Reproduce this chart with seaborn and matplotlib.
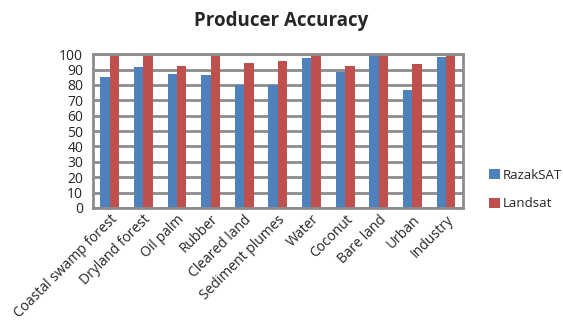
import numpy as np
import pandas as pd
import matplotlib
matplotlib.use("Agg")
import matplotlib.pyplot as plt
import seaborn as sns

categories = ["Coastal swamp forest", "Dryland forest", "Oil palm", "Rubber",
              "Cleared land", "Sediment plumes", "Water", "Coconut",
              "Bare land", "Urban", "Industry"]
razaksat = [85.4, 91.7, 87.0, 86.3, 80.0, 80.0, 97.4, 88.7, 100.0, 76.7, 98.0]
landsat = [100.0, 99.1, 92.6, 99.0, 94.1, 95.6, 100.0, 92.6, 100.0, 93.5, 100.0]

df = pd.DataFrame({
    "Class": categories * 2,
    "Accuracy": razaksat + landsat,
    "Sensor": ["RazakSAT"] * len(categories) + ["Landsat"] * len(categories),
})

sns.set_style("white")
plt.rcParams["font.family"] = ["Open Sans", "DejaVu Sans"]

fig = plt.figure(figsize=(5.63, 3.28), dpi=100)
ax = fig.add_axes([0.165, 0.366, 0.657, 0.469])

sns.barplot(data=df, x="Class", y="Accuracy", hue="Sensor",
            palette=["#4F81BD", "#C0504D"], width=0.56, gap=0,
            saturation=1, linewidth=0, ax=ax)

ax.set_ylim(0, 100)
ax.set_yticks(np.arange(0, 101, 10))
ax.set_axisbelow(True)
ax.yaxis.grid(True, color="#8C8C8C", linewidth=2)
for s in ax.spines.values():
    s.set_color("#8C8C8C")
    s.set_linewidth(2)
ax.set_xlabel("")
ax.set_ylabel("")
ax.tick_params(axis="both", length=0, labelsize=10)
ax.tick_params(axis="y", pad=7)
ax.tick_params(axis="x", pad=3)
plt.setp(ax.get_xticklabels(), rotation=45, ha="right", rotation_mode="anchor")

fig.text(0.5, 0.935, "Producer Accuracy", ha="center", va="center",
         fontsize=13.5, fontweight="bold")

ax.legend(loc="center left", bbox_to_anchor=(1.04, 0.12), frameon=False,
          fontsize=9.5, handlelength=0.8, handleheight=0.8, handletextpad=0.2,
          labelspacing=1.2)

fig.savefig("out.png", dpi=100)
